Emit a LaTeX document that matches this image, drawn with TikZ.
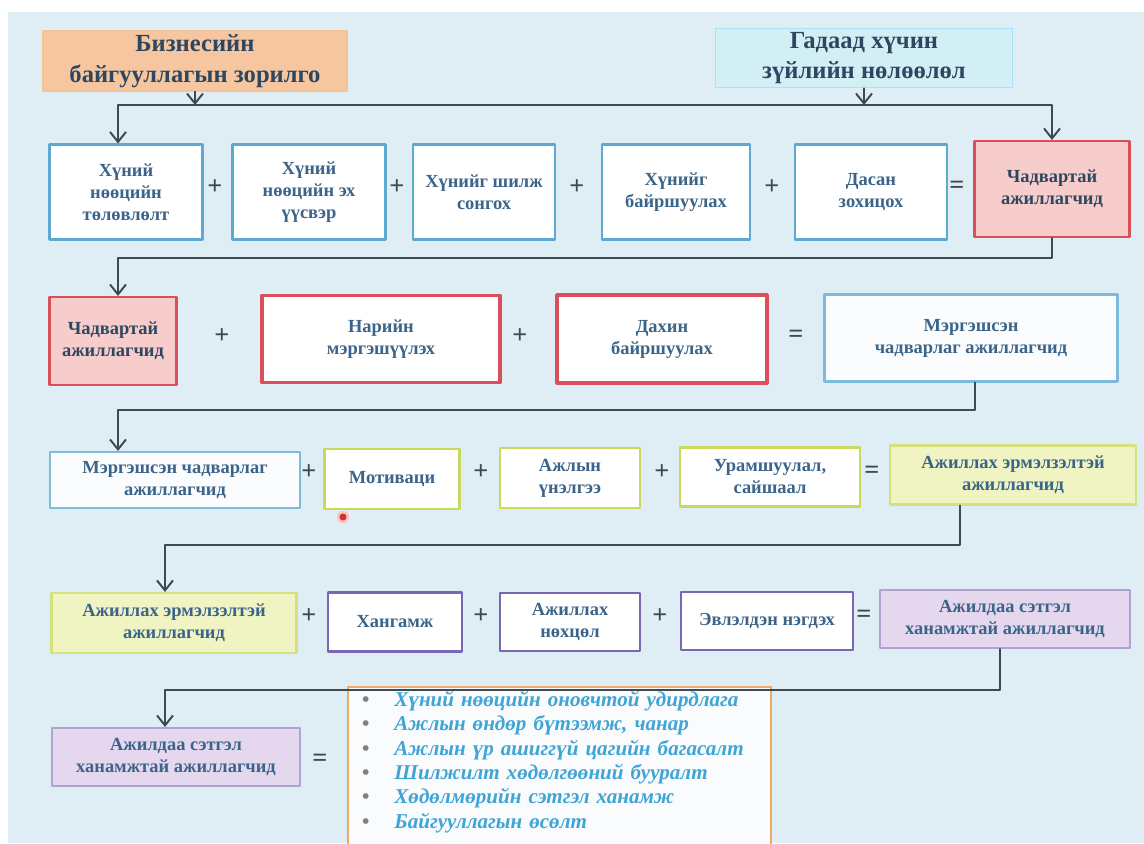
\documentclass[tikz,border=0pt]{standalone}
\usepackage{fontspec}
\setmainfont{Liberation Serif}
\usetikzlibrary{arrows.meta}

\definecolor{panel}{HTML}{DFEDF4}
\definecolor{txt}{HTML}{3A6489}
\definecolor{txtdark}{HTML}{2E4760}
\definecolor{wire}{HTML}{3E4950}
\definecolor{bluebd}{HTML}{5DA9D2}
\definecolor{redbd}{HTML}{D9505A}
\definecolor{redfill}{HTML}{F6CDCB}
\definecolor{limebd}{HTML}{C9D95E}
\definecolor{limefill}{HTML}{F0F3C2}
\definecolor{purplebd}{HTML}{7767B5}
\definecolor{purplefill}{HTML}{E4D7EE}
\definecolor{orangebd}{HTML}{F0A865}
\definecolor{orangefill}{HTML}{F6C6A0}
\definecolor{cyanfill}{HTML}{D3EFF6}
\definecolor{listtxt}{HTML}{3FA4D6}

\tikzset{
  box/.style={draw, line width=1.2pt, align=center, text=txt, inner sep=2pt,
    font=\fontsize{10.5}{12.5}\selectfont\bfseries},
  bluebox/.style={box, draw=bluebd, fill=white},
  redbox/.style={box, draw=redbd, fill=redfill, text=txtdark},
  redframe/.style={box, draw=redbd, line width=1.8pt, fill=white},
  skillbox/.style={box, draw=bluebd!80, fill=white!85!panel},
  limebox/.style={box, draw=limebd, fill=white},
  limefull/.style={box, draw=limebd!80, fill=limefill},
  purplebox/.style={box, draw=purplebd, fill=white},
  purplefull/.style={box, draw=purplebd!60, fill=purplefill},
  headbox/.style={box, line width=0.8pt, text=txtdark,
    font=\fontsize{14}{17.5}\selectfont\bfseries},
  op/.style={text=wire, font=\fontsize{15}{15}\selectfont\bfseries, inner sep=0pt},
  wireline/.style={draw=wire, line width=1.1pt}
}

\begin{document}
\begin{tikzpicture}[x=0.02cm, y=-0.02cm, >={Straight Barb[length=2mm,width=3.2mm]},
    line join=round, line cap=round]
  \useasboundingbox (0,0) rectangle (1144,843);
  \clip (0,0) rectangle (1144,843);
  \fill[panel] (8,12) rectangle (1144,843);

  % дээд хоёр хайрцаг
  \node[headbox, draw=orangebd!70, fill=orangefill, minimum width=6.08cm, minimum height=1.2cm]
    (goal) at (195,61) {Бизнесийн\\байгууллагын зорилго};
  \node[headbox, draw=cyan!35, fill=cyanfill, minimum width=5.94cm, minimum height=1.14cm]
    (extern) at (864,58) {Гадаад хүчин\\зүйлийн нөлөөлөл};

  % 1-р мөр
  \node[bluebox, minimum width=3.06cm, minimum height=1.9cm] (plan) at (126,192) {Хүний\\нөөцийн\\төлөвлөлт};
  \node[bluebox, minimum width=3.06cm, minimum height=1.9cm] (source) at (309,192) {Хүний\\нөөцийн эх\\үүсвэр};
  \node[bluebox, minimum width=2.84cm, minimum height=1.9cm] (select) at (484,192) {Хүнийг шилж\\сонгох};
  \node[bluebox, minimum width=2.96cm, minimum height=1.9cm] (place) at (676,192) {Хүнийг\\байршуулах};
  \node[bluebox, minimum width=3.04cm, minimum height=1.9cm] (adapt) at (871,192) {Дасан\\зохицох};
  \node[redbox, minimum width=3.1cm, minimum height=1.92cm] (able) at (1052,189) {Чадвартай\\ажиллагчид};

  % 2-р мөр
  \node[redbox, minimum width=2.54cm, minimum height=1.76cm] (able2) at (113,341) {Чадвартай\\ажиллагчид};
  \node[redframe, minimum width=4.76cm, minimum height=1.74cm] (special) at (381,339) {Нарийн\\мэргэшүүлэх};
  \node[redframe, minimum width=4.2cm, minimum height=1.76cm] (replace) at (662,339) {Дахин\\байршуулах};
  \node[skillbox, minimum width=5.86cm, minimum height=1.74cm] (skilled) at (971,338) {Мэргэшсэн\\чадварлаг ажиллагчид};

  % 3-р мөр
  \node[skillbox, minimum width=5cm, minimum height=1.12cm] (skilled2) at (175,480) {Мэргэшсэн чадварлаг\\ажиллагчид};
  \node[limebox, minimum width=2.7cm, minimum height=1.2cm] (motive) at (392,479) {Мотиваци};
  \node[limebox, minimum width=2.8cm, minimum height=1.2cm] (apprais) at (570,478) {Ажлын\\үнэлгээ};
  \node[limebox, minimum width=3.6cm, minimum height=1.18cm] (reward) at (770,477) {Урамшуулал,\\сайшаал};
  \node[limefull, minimum width=4.92cm, minimum height=1.18cm] (eager) at (1013,475) {Ажиллах эрмэлзэлтэй\\ажиллагчид};

  % 4-р мөр
  \node[limefull, minimum width=4.9cm, minimum height=1.2cm] (eager2) at (174,623) {Ажиллах эрмэлзэлтэй\\ажиллагчид};
  \node[purplebox, minimum width=2.68cm, minimum height=1.18cm] (supply) at (395,622) {Хангамж};
  \node[purplebox, minimum width=2.8cm, minimum height=1.16cm] (condit) at (570,622) {Ажиллах\\нөхцөл};
  \node[purplebox, minimum width=3.44cm, minimum height=1.16cm] (union) at (767,621) {Эвлэлдэн нэгдэх};
  \node[purplefull, minimum width=5cm, minimum height=1.16cm] (content) at (1005,619) {Ажилдаа сэтгэл\\ханамжтай ажиллагчид};

  % 5-р мөр
  \node[purplefull, minimum width=4.96cm, minimum height=1.16cm] (content2) at (176,757) {Ажилдаа сэтгэл\\ханамжтай ажиллагчид};
  \node[draw=orangebd, line width=1.2pt, fill=white!80!panel, anchor=north west, align=left,
    text width=7.9cm, inner xsep=0.28cm, inner ysep=0.08cm, text=listtxt,
    font=\fontsize{12}{13.9}\selectfont\bfseries\itshape] (gains) at (347,686)
    {{\color{gray}\upshape\textbullet}\hspace{0.5cm}Хүний нөөцийн оновчтой удирдлага\\
     {\color{gray}\upshape\textbullet}\hspace{0.5cm}Ажлын өндөр бүтээмж, чанар\\
     {\color{gray}\upshape\textbullet}\hspace{0.5cm}Ажлын үр ашиггүй цагийн багасалт\\
     {\color{gray}\upshape\textbullet}\hspace{0.5cm}Шилжилт хөдөлгөөний бууралт\\
     {\color{gray}\upshape\textbullet}\hspace{0.5cm}Хөдөлмөрийн сэтгэл ханамж\\
     {\color{gray}\upshape\textbullet}\hspace{0.5cm}Байгууллагын өсөлт\par\vspace*{0.6cm}};

  % нэмэх, тэнцүү тэмдэг
  \foreach \x/\y [count=\i] in {215/187, 397/187, 577/187, 772/187, 222/336, 520/336,
      309/472, 481/472, 662/472, 309/616, 481/616, 660/616}
    \node[op] (plus\i) at (\x,\y) {+};
  \foreach \x/\y [count=\i] in {957/187, 796/336, 872/472, 864/616, 320/760}
    \node[op] (eq\i) at (\x,\y) {=};

  % холбох шугамууд
  \coordinate (k1) at (118,105);  \coordinate (k2) at (1052,105);
  \coordinate (k3) at (1052,258); \coordinate (k4) at (118,258);
  \coordinate (k5) at (975,410);  \coordinate (k6) at (118,410);
  \coordinate (k7) at (960,545);  \coordinate (k8) at (165,545);
  \coordinate (k9) at (1000,690); \coordinate (k10) at (165,690);
  \draw[wireline, ->] (goal.south) -- (goal.south |- k1);
  \draw[wireline, ->] (extern.south) -- (extern.south |- k1);
  \draw[wireline, <->] (k1 |- plan.north) -- (k1) -- (k2) -- (k2 |- able.north);
  \draw[wireline, ->] (k3 |- able.south) -- (k3) -- (k4) -- (k4 |- able2.north);
  \draw[wireline, ->] (k5 |- skilled.south) -- (k5) -- (k6) -- (k6 |- skilled2.north);
  \draw[wireline, ->] (k7 |- eager.south) -- (k7) -- (k8) -- (k8 |- eager2.north);
  \draw[wireline, ->] (k9 |- content.south) -- (k9) -- (k10) -- (k10 |- content2.north);

  % улаан цэг
  \fill[red!25] (343,517) circle (6);
  \fill[red!75!black!80] (343,517) circle (3.5);
\end{tikzpicture}
\end{document}
